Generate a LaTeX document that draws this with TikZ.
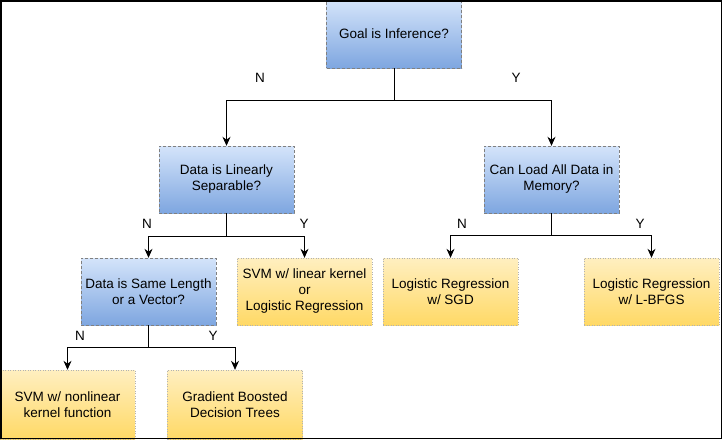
\documentclass[tikz,border=0pt]{standalone}
\usepackage{fontspec}
\setmainfont{Liberation Sans}
\usetikzlibrary{arrows.meta}

\definecolor{qtop}{HTML}{D4E4FA}
\definecolor{qbot}{HTML}{7EA6E0}
\definecolor{atop}{HTML}{FFEFC0}
\definecolor{abot}{HTML}{FFD966}

\begin{document}
\begin{tikzpicture}[
    x=1pt, y=-1pt,
    question/.style={
        rectangle,
        draw=gray,
        dash pattern=on 3pt off 2pt,
        top color=qtop,
        bottom color=qbot,
        minimum width=135pt,
        minimum height=67pt,
        align=center,
        font=\fontsize{13.5}{16}\selectfont
    },
    answer/.style={
        question,
        draw=gray!60,
        dash pattern=on 1pt off 1.5pt,
        top color=atop,
        bottom color=abot
    },
    branch/.style={->, >={Stealth[length=9pt,width=8pt]}, line width=0.8pt},
    yn/.style={font=\fontsize{13.5}{16}\selectfont}
]
\useasboundingbox (0,0) rectangle (722,439);

% questions
\node[question, minimum height=68pt] (goal) at (394,34) {Goal is Inference?};
\node[question] (linsep) at (226.5,179.5) {Data is Linearly\\Separable?};
\node[question] (canload) at (551.5,179.5) {Can Load All Data in\\Memory?};
\node[question] (samelen) at (148.5,291.5) {Data is Same Length\\or a Vector?};

% answers
\node[answer] (svmlin) at (304.5,291.5) {SVM w/ linear kernel\\or\\Logistic Regression};
\node[answer] (lrsgd) at (450.5,291.5) {Logistic Regression\\w/ SGD};
\node[answer] (lrlbfgs) at (651.5,291.5) {Logistic Regression\\w/ L-BFGS};
\node[answer, minimum height=69pt] (svmnl) at (67.5,404.5) {SVM w/ nonlinear\\kernel function};
\node[answer, minimum height=69pt] (gbdt) at (235,404.5) {Gradient Boosted\\Decision Trees};

% split points
\coordinate (s0) at (394,100);
\coordinate (s1) at (226.5,236);
\coordinate (s2) at (551.5,235);
\coordinate (s3) at (148.5,347);

% edges
\draw[line width=0.8pt] (goal) -- (s0);
\draw[branch] (s0) -| (linsep);
\draw[branch] (s0) -| (canload);

\draw[line width=0.8pt] (linsep) -- (s1);
\draw[branch] (s1) -| (samelen);
\draw[branch] (s1) -| (svmlin);

\draw[line width=0.8pt] (canload) -- (s2);
\draw[branch] (s2) -| (lrsgd);
\draw[branch] (s2) -| (lrlbfgs);

\draw[line width=0.8pt] (samelen) -- (s3);
\draw[branch] (s3) -| (svmnl);
\draw[branch] (s3) -| (gbdt);

% labels
\node[yn] (n0) at (260,78) {N};
\node[yn] (y0) at (516,78) {Y};
\node[yn] (n1) at (147,224) {N};
\node[yn] (y1) at (304,224) {Y};
\node[yn] (n2) at (462,224) {N};
\node[yn] (y2) at (640,224) {Y};
\node[yn] (n3) at (80,336) {N};
\node[yn] (y3) at (213,336) {Y};

% frame
\draw[line width=1.5pt] (0.75,0.75) rectangle (721.25,438.25);

\end{tikzpicture}
\end{document}
